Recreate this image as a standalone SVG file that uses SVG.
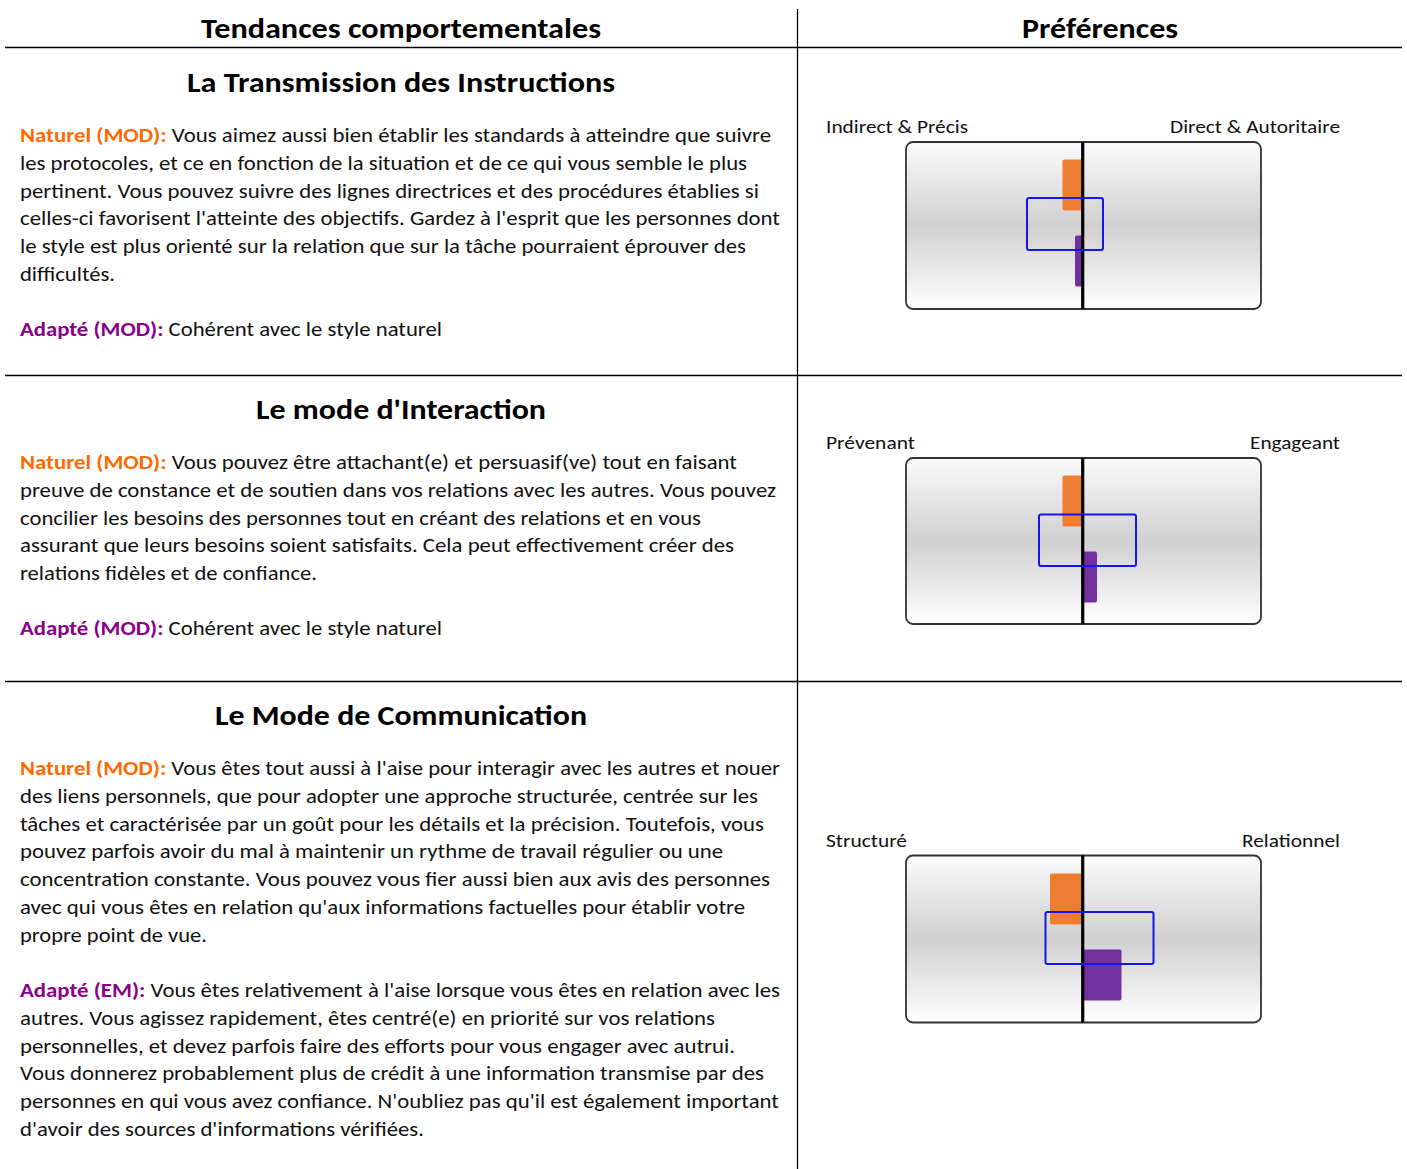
<svg xmlns="http://www.w3.org/2000/svg" width="1407" height="1169" viewBox="0 0 1407 1169">
<style>
.t{font-family:"Carlito","Liberation Sans",Arial,sans-serif;font-size:20px;fill:#111}
.h{font-family:"Carlito","Liberation Sans",Arial,sans-serif;font-size:28px;font-weight:bold;fill:#000;text-anchor:middle}
.lab{font-family:"Carlito","Liberation Sans",Arial,sans-serif;font-size:19px;fill:#111}
.nat{fill:#ff6a00;font-weight:bold}
.ada{fill:#8b008b;font-weight:bold}
.grid{stroke:#000;stroke-width:1.3;fill:none}
.box{fill:url(#g);stroke:#333;stroke-width:1.8}
.mid{stroke:#000;stroke-width:3.2}
.or{fill:#ed7d31}
.pu{fill:#7030a0}
.bl{fill:none;stroke:#1515ee;stroke-width:2}
</style>
<defs>
<linearGradient id="g" x1="0" y1="0" x2="0" y2="1">
<stop offset="0" stop-color="#fbfbfb"/>
<stop offset="0.5" stop-color="#d0d0d0"/>
<stop offset="1" stop-color="#ffffff"/>
</linearGradient>
</defs>
<rect width="1407" height="1169" fill="#fff"/>
<g id="table">
<line class="grid" x1="5" y1="47.5" x2="1402" y2="47.5"/>
<line class="grid" x1="5" y1="375.5" x2="1402" y2="375.5"/>
<line class="grid" x1="5" y1="681.5" x2="1402" y2="681.5"/>
<line class="grid" x1="797.5" y1="9" x2="797.5" y2="1169"/>
<text class="h" x="401" y="38" textLength="400" lengthAdjust="spacingAndGlyphs">Tendances comportementales</text>
<text class="h" x="1100" y="38" textLength="156" lengthAdjust="spacingAndGlyphs">Préférences</text>
</g>
<g id="section1">
<text class="h" x="401" y="92" textLength="428" lengthAdjust="spacingAndGlyphs">La Transmission des Instructions</text>
<text class="t" x="20" y="142" textLength="751" lengthAdjust="spacingAndGlyphs"><tspan class="nat">Naturel (MOD):</tspan> Vous aimez aussi bien établir les standards à atteindre que suivre</text>
<text class="t" x="20" y="170" textLength="727" lengthAdjust="spacingAndGlyphs">les protocoles, et ce en fonction de la situation et de ce qui vous semble le plus</text>
<text class="t" x="20" y="198" textLength="739" lengthAdjust="spacingAndGlyphs">pertinent. Vous pouvez suivre des lignes directrices et des procédures établies si</text>
<text class="t" x="20" y="225" textLength="760" lengthAdjust="spacingAndGlyphs">celles-ci favorisent l'atteinte des objectifs. Gardez à l'esprit que les personnes dont</text>
<text class="t" x="20" y="253" textLength="726" lengthAdjust="spacingAndGlyphs">le style est plus orienté sur la relation que sur la tâche pourraient éprouver des</text>
<text class="t" x="20" y="281" textLength="95" lengthAdjust="spacingAndGlyphs">difficultés.</text>
<text class="t" x="20" y="336" textLength="422" lengthAdjust="spacingAndGlyphs"><tspan class="ada">Adapté (MOD):</tspan> Cohérent avec le style naturel</text>
</g>
<g id="section2">
<text class="h" x="401" y="419" textLength="290" lengthAdjust="spacingAndGlyphs">Le mode d'Interaction</text>
<text class="t" x="20" y="469" textLength="717" lengthAdjust="spacingAndGlyphs"><tspan class="nat">Naturel (MOD):</tspan> Vous pouvez être attachant(e) et persuasif(ve) tout en faisant</text>
<text class="t" x="20" y="497" textLength="756" lengthAdjust="spacingAndGlyphs">preuve de constance et de soutien dans vos relations avec les autres. Vous pouvez</text>
<text class="t" x="20" y="525" textLength="681" lengthAdjust="spacingAndGlyphs">concilier les besoins des personnes tout en créant des relations et en vous</text>
<text class="t" x="20" y="552" textLength="714" lengthAdjust="spacingAndGlyphs">assurant que leurs besoins soient satisfaits. Cela peut effectivement créer des</text>
<text class="t" x="20" y="580" textLength="297" lengthAdjust="spacingAndGlyphs">relations fidèles et de confiance.</text>
<text class="t" x="20" y="635" textLength="422" lengthAdjust="spacingAndGlyphs"><tspan class="ada">Adapté (MOD):</tspan> Cohérent avec le style naturel</text>
</g>
<g id="section3">
<text class="h" x="401" y="725" textLength="372" lengthAdjust="spacingAndGlyphs">Le Mode de Communication</text>
<text class="t" x="20" y="775" textLength="760" lengthAdjust="spacingAndGlyphs"><tspan class="nat">Naturel (MOD):</tspan> Vous êtes tout aussi à l'aise pour interagir avec les autres et nouer</text>
<text class="t" x="20" y="803" textLength="738" lengthAdjust="spacingAndGlyphs">des liens personnels, que pour adopter une approche structurée, centrée sur les</text>
<text class="t" x="20" y="831" textLength="744" lengthAdjust="spacingAndGlyphs">tâches et caractérisée par un goût pour les détails et la précision. Toutefois, vous</text>
<text class="t" x="20" y="858" textLength="703" lengthAdjust="spacingAndGlyphs">pouvez parfois avoir du mal à maintenir un rythme de travail régulier ou une</text>
<text class="t" x="20" y="886" textLength="750" lengthAdjust="spacingAndGlyphs">concentration constante. Vous pouvez vous fier aussi bien aux avis des personnes</text>
<text class="t" x="20" y="914" textLength="725" lengthAdjust="spacingAndGlyphs">avec qui vous êtes en relation qu'aux informations factuelles pour établir votre</text>
<text class="t" x="20" y="942" textLength="187" lengthAdjust="spacingAndGlyphs">propre point de vue.</text>
<text class="t" x="20" y="997" textLength="760" lengthAdjust="spacingAndGlyphs"><tspan class="ada">Adapté (EM):</tspan> Vous êtes relativement à l'aise lorsque vous êtes en relation avec les</text>
<text class="t" x="20" y="1025" textLength="695" lengthAdjust="spacingAndGlyphs">autres. Vous agissez rapidement, êtes centré(e) en priorité sur vos relations</text>
<text class="t" x="20" y="1053" textLength="715" lengthAdjust="spacingAndGlyphs">personnelles, et devez parfois faire des efforts pour vous engager avec autrui.</text>
<text class="t" x="20" y="1080" textLength="744" lengthAdjust="spacingAndGlyphs">Vous donnerez probablement plus de crédit à une information transmise par des</text>
<text class="t" x="20" y="1108" textLength="759" lengthAdjust="spacingAndGlyphs">personnes en qui vous avez confiance. N'oubliez pas qu'il est également important</text>
<text class="t" x="20" y="1136" textLength="404" lengthAdjust="spacingAndGlyphs">d'avoir des sources d'informations vérifiées.</text>
</g>
<g id="chart1">
<text class="lab" x="826" y="133" textLength="142" lengthAdjust="spacingAndGlyphs">Indirect &amp; Précis</text>
<text class="lab" x="1340" y="133" text-anchor="end" textLength="170" lengthAdjust="spacingAndGlyphs">Direct &amp; Autoritaire</text>
<rect class="box" x="906" y="142" width="355" height="167" rx="7"/>
<rect class="or" x="1062.5" y="159.5" width="20" height="51" rx="2"/>
<rect class="pu" x="1075" y="235.5" width="8" height="51" rx="2"/>
<line class="mid" x1="1082.7" y1="142" x2="1082.7" y2="309"/>
<rect class="bl" x="1027" y="198" width="76" height="52" rx="2"/>
</g>
<g id="chart2">
<text class="lab" x="826" y="449" textLength="89" lengthAdjust="spacingAndGlyphs">Prévenant</text>
<text class="lab" x="1340" y="449" text-anchor="end" textLength="90" lengthAdjust="spacingAndGlyphs">Engageant</text>
<rect class="box" x="906" y="458" width="355" height="166" rx="7"/>
<rect class="or" x="1062.5" y="475.5" width="20" height="51" rx="2"/>
<rect class="pu" x="1082" y="551.5" width="15" height="51" rx="2"/>
<line class="mid" x1="1082.7" y1="458" x2="1082.7" y2="624"/>
<rect class="bl" x="1039" y="514.5" width="97" height="51.5" rx="2"/>
</g>
<g id="chart3">
<text class="lab" x="826" y="847" textLength="81" lengthAdjust="spacingAndGlyphs">Structuré</text>
<text class="lab" x="1340" y="847" text-anchor="end" textLength="98" lengthAdjust="spacingAndGlyphs">Relationnel</text>
<rect class="box" x="906" y="855.5" width="355" height="167" rx="7"/>
<rect class="or" x="1050" y="873.5" width="32.5" height="51" rx="2"/>
<rect class="pu" x="1082" y="949.5" width="39.5" height="51" rx="2"/>
<line class="mid" x1="1082.7" y1="855.5" x2="1082.7" y2="1022.5"/>
<rect class="bl" x="1045.5" y="912" width="108" height="52" rx="2"/>
</g>
</svg>
